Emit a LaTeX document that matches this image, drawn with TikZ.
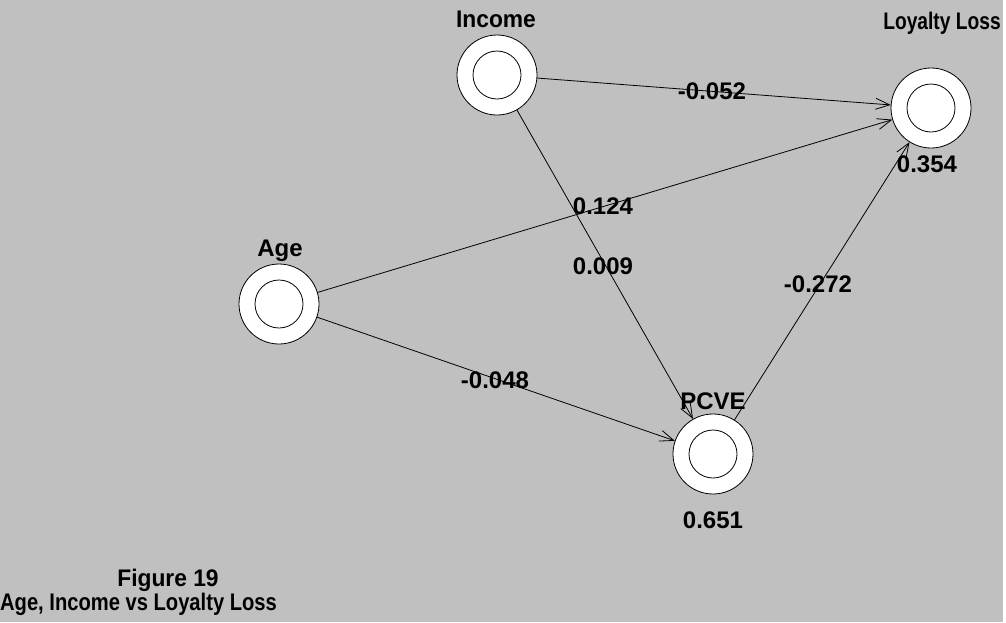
\documentclass[tikz,border=0pt]{standalone}
\usepackage{fontspec}
\setmainfont{Liberation Sans}
\usetikzlibrary{arrows.meta}
\definecolor{panel}{HTML}{C0C0C0}
\begin{document}
\begin{tikzpicture}[x=1pt,y=-1pt,
  lbl/.style={font=\fontsize{24}{26}\selectfont\bfseries, inner sep=0pt, text=black},
  var/.style={circle, draw=black, line width=0.8pt, fill=white, minimum size=80pt, inner sep=0pt},
  link/.style={draw=black, line width=0.8pt, -{Straight Barb[length=14pt,width=11pt,line width=0.8pt]}}
]
\useasboundingbox (0,0) rectangle (1006,622);
\fill[white] (0,0) rectangle (1006,622);
\fill[panel] (0,0) rectangle (1003,622);

% variables: outer ring with an inner circle
\node[var] (inc) at (497,75) {};
\node[var] (loy) at (931,108) {};
\node[var] (age) at (279,304) {};
\node[var] (pcv) at (713,454) {};
\foreach \n in {inc,loy,age,pcv}
  \draw[line width=0.8pt] (\n.center) circle (24pt);

% variable names and R-squared values
\node[lbl, xscale=0.95] (tinc) at (496,19) {Income};
\node[lbl, xscale=0.8] (tloy) at (942,23) {Loyalty Loss};
\node[lbl] (tage) at (280,251) {Age};
\node[lbl] (tpcv) at (713,401) {PCVE};
\node[lbl] (rloy) at (927,164) {0.354};
\node[lbl] (rpcv) at (713,520) {0.651};

% paths
\draw[link] (inc) -- (loy);
\draw[link] (age) -- (loy);
\draw[link] (inc) -- (pcv);
\draw[link] (pcv) -- (loy);
\draw[link] (age) -- (pcv);

% path coefficients
\node[lbl] (cil) at (712,91) {-0.052};
\node[lbl] (cal) at (603,206) {0.124};
\node[lbl] (cip) at (603,266) {0.009};
\node[lbl] (cpl) at (818,284) {-0.272};
\node[lbl] (cap) at (495,380) {-0.048};

% caption
\node[lbl, xscale=0.95] (fig) at (168,580) {Figure 19};
\node[lbl, anchor=west, xscale=0.84] (cpt) at (0,604) {Age, Income vs Loyalty Loss};
\end{tikzpicture}
\end{document}
